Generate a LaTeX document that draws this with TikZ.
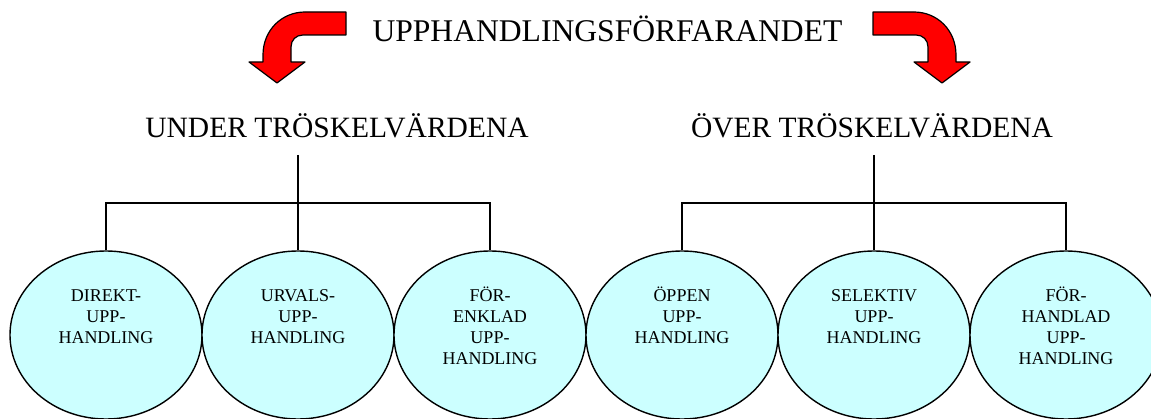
\documentclass[tikz,border=0pt]{standalone}
\usepackage{fontspec}
\setmainfont{Liberation Serif}
\usetikzlibrary{shapes.geometric}
\definecolor{ovalfill}{HTML}{CCFFFF}
\definecolor{arrowred}{HTML}{FF0000}
\newcommand\myarrowshape{%
  \draw[arrowshape] (346,12) -- (305,12)
    .. controls (282,12) and (263,30) .. (263,55)
    -- (263,62) -- (249,62) -- (277,83) -- (305,62) -- (291,62) -- (291,47)
    .. controls (291,40) and (296,35) .. (303,35)
    -- (346,35) -- cycle;}
\begin{document}
\begin{tikzpicture}[x=1pt,y=-1pt,
  oval/.style={ellipse,draw=black,line width=1.4pt,fill=ovalfill,minimum width=192pt,minimum height=168pt,inner sep=0pt},
  otext/.style={anchor=base,inner sep=0pt,font=\fontsize{18}{21}\selectfont},
  heading/.style={anchor=base,inner sep=0pt,font=\fontsize{30}{36}\selectfont},
  conn/.style={line width=1.4pt,draw=black},
  arrowshape/.style={fill=arrowred,draw=black,line width=1.2pt,line join=round}]
\useasboundingbox (0,0) rectangle (1151,419);
\begin{scope}
\clip (0,0) rectangle (1151,419);
% title and arrows
\node[heading,font=\fontsize{31.6}{38}\selectfont] (title) at (607.5,42) {UPPHANDLINGSFÖRFARANDET};
\myarrowshape
\begin{scope}[xshift=1219pt,xscale=-1]
\myarrowshape
\end{scope}
% headings
\node[heading,font=\fontsize{29.5}{35}\selectfont] (under) at (337,138) {UNDER TRÖSKELVÄRDENA};
\node[heading,font=\fontsize{29.5}{35}\selectfont] (over) at (872,138) {ÖVER TRÖSKELVÄRDENA};
% ovals
\node[oval] (e1) at (106,335) {};
\node[oval] (e2) at (298,335) {};
\node[oval] (e3) at (490,335) {};
\node[oval] (e4) at (682,335) {};
\node[oval] (e5) at (874,335) {};
\node[oval] (e6) at (1066,335) {};
\node[otext] (t1) at (106,302) {\begin{tabular}[t]{@{}c@{}}DIREKT-\\UPP-\\HANDLING\end{tabular}};
\node[otext] (t2) at (298,302) {\begin{tabular}[t]{@{}c@{}}URVALS-\\UPP-\\HANDLING\end{tabular}};
\node[otext] (t3) at (490,302) {\begin{tabular}[t]{@{}c@{}}FÖR-\\ENKLAD\\UPP-\\HANDLING\end{tabular}};
\node[otext] (t4) at (682,302) {\begin{tabular}[t]{@{}c@{}}ÖPPEN\\UPP-\\HANDLING\end{tabular}};
\node[otext] (t5) at (874,302) {\begin{tabular}[t]{@{}c@{}}SELEKTIV\\UPP-\\HANDLING\end{tabular}};
\node[otext] (t6) at (1066,302) {\begin{tabular}[t]{@{}c@{}}FÖR-\\HANDLAD\\UPP-\\HANDLING\end{tabular}};
% connectors
\coordinate (uTop) at (298,155);
\coordinate (uBar) at (298,203);
\coordinate (oTop) at (874,155);
\coordinate (oBar) at (874,203);
\draw[conn] (e1.north) |- (uBar) -| (e3.north);
\draw[conn] (uTop) -- (e2.north);
\draw[conn] (e4.north) |- (oBar) -| (e6.north);
\draw[conn] (oTop) -- (e5.north);
\end{scope}
\end{tikzpicture}
\end{document}
